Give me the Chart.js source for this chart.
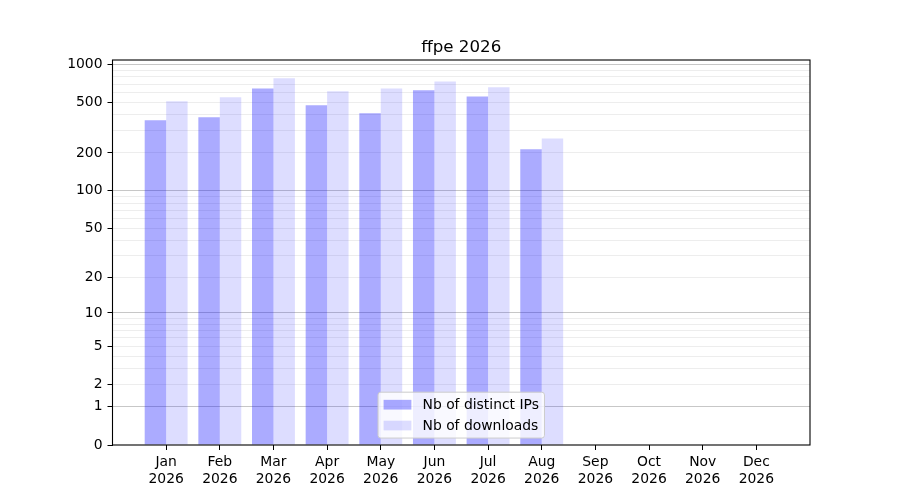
<!DOCTYPE html>
<html>
<head>
<meta charset="utf-8">
<script src="https://cdn.jsdelivr.net/npm/chart.js@4/dist/chart.umd.min.js"></script>
<style>
  body { margin: 0; background: #fff; }
</style>
</head>
<body>
<canvas id="chart" width="900" height="500"></canvas>
<script>
const months = ["Jan", "Feb", "Mar", "Apr", "May", "Jun", "Jul", "Aug", "Sep", "Oct", "Nov", "Dec"];
const years = ["2026", "2026", "2026", "2026", "2026", "2026", "2026", "2026", "2026", "2026", "2026", "2026"];
const distinctIPs = [363, 383, 649, 477, 412, 626, 561, 214, 0, 0, 0, 0];
const downloads = [513, 551, 779, 615, 649, 737, 661, 261, 0, 0, 0, 0];

// y axis: ticks with a gridline, the ones that get a label, and the darker major lines
const yGridValues = [0, 1, 2, 3, 4, 5, 6, 7, 8, 9, 10, 20, 30, 40, 50, 60, 70, 80, 90,
                     100, 200, 300, 400, 500, 600, 700, 800, 900, 1000];
const yLabelled = [0, 1, 2, 5, 10, 20, 50, 100, 200, 500, 1000];
const yMajor = [1, 10, 100, 1000];

const FONT = "'DejaVu Sans', sans-serif";
const f = v => Math.log10(1 + v);

// value axis drawn as log10(1 + v)
class Log1pScale extends Chart.Scale {
    static id = "log1p";
    static defaults = {};

    parse(raw) {
        if (raw === null || raw === undefined) return null;
        const v = +raw;
        return isFinite(v) ? v : null;
    }
    determineDataLimits() {
        this.min = this.options.min;
        this.max = this.options.max;
    }
    buildTicks() {
        return yGridValues.map(v => ({ value: v }));
    }
    configure() {
        super.configure();
        this._start = f(this.min);
        this._range = f(this.max) - this._start;
    }
    getLabelForValue(value) {
        return String(value);
    }
    getPixelForValue(value) {
        return this.getPixelForDecimal((f(value) - this._start) / this._range);
    }
    getValueForPixel(pixel) {
        return Math.pow(10, this._start + this.getDecimalForPixel(pixel) * this._range) - 1;
    }
}
Chart.register(Log1pScale);

// top of the axis: 5% margin above the tallest bar in transformed space
const yTop = Math.pow(10, f(Math.max(...distinctIPs, ...downloads)) * 1.05) - 1;

const framePlugin = {
    id: "frame",
    afterDatasetsDraw(chart) {
        const { ctx, chartArea: a } = chart;
        ctx.save();
        ctx.strokeStyle = "#000";
        ctx.lineWidth = 1.1;
        ctx.strokeRect(a.left, a.top, a.right - a.left, a.bottom - a.top);
        ctx.restore();
    }
};

// matplotlib-like legend, lower center inside the plot
const boxLegend = {
    id: "boxLegend",
    afterDraw(chart) {
        const { ctx, chartArea: a } = chart;
        const em = 13.9;
        const pad = 0.4 * em, handleW = 2 * em, handleH = 0.7 * em, gap = 0.8 * em, spacing = 0.5 * em;
        ctx.save();
        ctx.font = em + "px " + FONT;
        const sets = chart.data.datasets;
        const textW = Math.max(...sets.map(d => ctx.measureText(d.label).width));
        const w = pad * 2 + handleW + gap + textW;
        const rowH = em;
        const h = pad * 2 + rowH * sets.length + spacing * (sets.length - 1);
        const x = (a.left + a.right) / 2 - w / 2;
        const y = a.bottom - 0.5 * em - h;

        ctx.beginPath();
        ctx.roundRect(x, y, w, h, 0.2 * em);
        ctx.fillStyle = "rgba(255,255,255,0.8)";
        ctx.fill();
        ctx.strokeStyle = "#cccccc";
        ctx.lineWidth = 1;
        ctx.stroke();

        sets.forEach((d, i) => {
            const cy = y + pad + i * (rowH + spacing) + rowH / 2;
            ctx.fillStyle = d.backgroundColor;
            ctx.fillRect(x + pad, cy - handleH / 2, handleW, handleH);
            ctx.fillStyle = "#000";
            ctx.textBaseline = "middle";
            ctx.textAlign = "left";
            ctx.fillText(d.label, x + pad + handleW + gap, cy + 1);
        });
        ctx.restore();
    }
};

Chart.defaults.color = "#000";
Chart.defaults.font.family = FONT;
Chart.defaults.font.size = 13.9;

new Chart(document.getElementById("chart"), {
    type: "bar",
    data: {
        datasets: [
            {
                label: "Nb of distinct IPs",
                data: distinctIPs.map((v, i) => ({ x: i, y: v })),
                backgroundColor: "rgba(0,0,255,0.33)",
                borderWidth: 0
            },
            {
                label: "Nb of downloads",
                data: downloads.map((v, i) => ({ x: i, y: v })),
                backgroundColor: "rgba(0,0,255,0.133)",
                borderWidth: 0
            }
        ]
    },
    options: {
        responsive: false,
        animation: false,
        devicePixelRatio: 1,
        layout: { padding: { left: 0, right: 90, top: 0, bottom: 0 } },
        categoryPercentage: 0.8,
        barPercentage: 1.0,
        plugins: {
            legend: { display: false },
            tooltip: { enabled: false },
            title: {
                display: true,
                fullSize: false,
                text: "ffpe 2026",
                color: "#000",
                font: { size: 16.67, weight: "normal", family: FONT },
                padding: { top: 38, bottom: 2 }
            }
        },
        scales: {
            x: {
                type: "linear",
                min: -1,
                max: 12,
                offset: false,
                border: { display: false },
                grid: { offset: false, drawOnChartArea: false, tickLength: 5, tickColor: "#000", tickWidth: 1 },
                ticks: {
                    stepSize: 1,
                    autoSkip: false,
                    maxRotation: 0,
                    padding: 4,
                    callback: v => [months[v], years[v]]
                },
                afterBuildTicks: s => {
                    s.ticks = s.ticks.filter(t => t.value >= 0 && t.value < months.length);
                },
                afterFit: s => { s.height = 55; }
            },
            y: {
                type: "log1p",
                min: 0,
                max: yTop,
                border: { display: false },
                grid: {
                    tickLength: 5,
                    lineWidth: 1,
                    color: c => yMajor.includes(c.tick.value) ? "rgba(0,0,0,0.22)"
                        : (c.tick.value === 0 ? "rgba(0,0,0,0)" : "rgba(0,0,0,0.07)"),
                    tickColor: c => yLabelled.includes(c.tick.value) ? "#000" : "rgba(0,0,0,0)"
                },
                ticks: {
                    autoSkip: false,
                    padding: 5,
                    callback: v => yLabelled.includes(v) ? String(v) : ""
                },
                afterFit: s => { s.width = 112.5; }
            }
        }
    },
    plugins: [framePlugin, boxLegend]
});
</script>
</body>
</html>
